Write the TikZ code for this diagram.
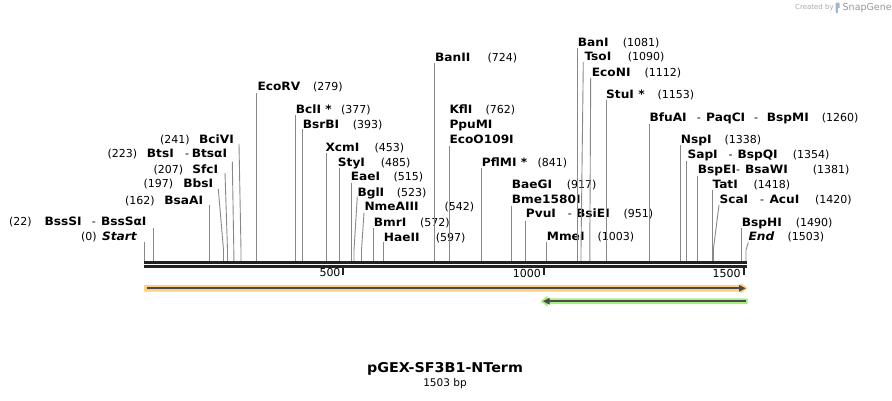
\documentclass[tikz,border=0pt]{standalone}
\usepackage{fontspec}
\setmainfont{DejaVu Sans}
\newfontfamily\lblfont{DejaVu Sans}[FakeStretch=1.06]
\definecolor{cutgray}{HTML}{888888}
\definecolor{bbone}{HTML}{222222}
\definecolor{orfill}{HTML}{FFD080}
\definecolor{grfill}{HTML}{A6EE80}
\definecolor{featdark}{HTML}{4A4A4A}
\definecolor{logogray}{HTML}{A8A8A8}
\definecolor{iconblue}{HTML}{9FB6CC}
\newcommand\RL[6]{%
  \node[lbl,anchor=base west] (#1) at (#2,#3+4) {#4};
  \node[num,anchor=base west] (#1n) at (#5,#3+4) {#6};}
\newcommand\XL[4]{\node[#1,anchor=base west] (#2) at (#3) {#4};}
\begin{document}
\begin{tikzpicture}[x=1pt,y=-1pt,
  lbl/.style={inner sep=0pt,font=\lblfont\fontsize{11.5}{13}\selectfont\bfseries},
  num/.style={inner sep=0pt,font=\fontsize{11}{13}\selectfont},
  cut/.style={draw=cutgray,line width=0.9pt},
  tick/.style={draw=bbone,line width=2pt}]
\useasboundingbox (0,0) rectangle (892,400);

% ---------- right-hand labels ----------
\RL{ecorv}{257.3}{86.7}{EcoRV}{313}{(279)}
\draw[cut] (256.6,93) -- (256.6,261);
\RL{bcli}{295.7}{109.3}{BclI *}{341}{(377)}
\draw[cut] (295.8,115) -- (295.8,261);
\RL{bsrbi}{302.7}{124}{BsrBI}{352.7}{(393)}
\draw[cut] (302,129.3) -- (302,261);
\RL{xcmi}{325.3}{147.3}{XcmI}{374.3}{(453)}
\draw[cut] (326,153.3) -- (326,261);
\RL{styi}{337.7}{162.3}{StyI}{380.7}{(485)}
\draw[cut] (339,167.7) -- (339,261);
\RL{eaei}{350.7}{176.7}{EaeI}{393.3}{(515)}
\draw[cut] (351,182.7) -- (351,261);
\RL{bgli}{357.3}{192}{BglI}{396.7}{(523)}
\draw[cut] (357.3,196.7) -- (354,250) -- (354,261);
\RL{nmeaiii}{364.3}{206.7}{NmeAIII}{444.3}{(542)}
\draw[cut] (364,212.7) -- (361.5,250) -- (361.5,261);
\RL{bmri}{373.7}{222}{BmrI}{420}{(572)}
\draw[cut] (373.8,227.7) -- (373.8,261);
\RL{haeii}{383.7}{237}{HaeII}{435.7}{(597)}
\draw[cut] (383.8,241.7) -- (383.8,261);
\RL{banii}{435}{57.3}{BanII}{487.3}{(724)}
\draw[cut] (434.6,63.3) -- (434.6,261);
\RL{kfli}{449.3}{109.3}{KflI}{485.3}{(762)}
\XL{lbl}{ppumi}{449.3,128}{PpuMI}
\XL{lbl}{ecoo}{449.3,143}{EcoO109I}
\draw[cut] (449.8,145.5) -- (449.8,261);
\RL{pflmi}{481.7}{162.3}{PflMI *}{537.3}{(841)}
\draw[cut] (481.4,167.7) -- (481.4,261);
\RL{baegi}{511.7}{184}{BaeGI}{566.7}{(917)}
\XL{lbl}{bme}{511.7,203}{Bme1580I}
\draw[cut] (511.8,205.5) -- (511.8,261);
\RL{pvui}{525.7}{213.3}{PvuI}{623.3}{(951)}
\XL{num}{pvud}{567.7,217.3}{-}
\XL{lbl}{bsiei}{576,217.3}{BsiEI}
\draw[cut] (525.4,220.7) -- (525.4,261);
\RL{mmei}{546.7}{236.7}{MmeI}{597.3}{(1003)}
\draw[cut] (546.2,241.7) -- (546.2,261);
\RL{bani}{577.7}{42.3}{BanI}{622.7}{(1081)}
\draw[cut] (577.4,48.3) -- (577.4,261);
\RL{tsoi}{584.3}{56.7}{TsoI}{627.7}{(1090)}
\draw[cut] (583.3,62.3) -- (581,250) -- (581,261);
\RL{econi}{591.7}{72.3}{EcoNI}{644.3}{(1112)}
\draw[cut] (590.7,77.7) -- (589.8,250) -- (589.8,261);
\RL{stui}{606}{94}{StuI *}{657.3}{(1153)}
\draw[cut] (606.2,100) -- (606.2,261);
\RL{bfuai}{649.3}{117.3}{BfuAI}{821.7}{(1260)}
\XL{num}{bfud1}{696.7,121.3}{-}
\XL{lbl}{paqci}{706,121.3}{PaqCI}
\XL{num}{bfud2}{754,121.3}{-}
\XL{lbl}{bspmi}{766.7,121.3}{BspMI}
\draw[cut] (649,124) -- (649,261);
\RL{nspi}{680.7}{139}{NspI}{724.3}{(1338)}
\draw[cut] (680.2,145) -- (680.2,261);
\RL{sapi}{687.3}{154}{SapI}{792.7}{(1354)}
\XL{num}{sapd}{728.3,158}{-}
\XL{lbl}{bspqi}{737.3,158}{BspQI}
\draw[cut] (686.7,161) -- (686.7,261);
\RL{bspei}{697.7}{169}{BspEI}{812.7}{(1381)}
\XL{num}{bspd}{736,173}{-}
\XL{lbl}{bsawi}{745,173}{BsaWI}
\draw[cut] (697.4,175.7) -- (697.4,261);
\RL{tati}{712.3}{184}{TatI}{753.3}{(1418)}
\draw[cut] (712.2,190) -- (712.2,261);
\RL{scai}{719.3}{199}{ScaI}{815}{(1420)}
\XL{num}{scad}{760,203}{-}
\XL{lbl}{acui}{769.3,203}{AcuI}
\draw[cut] (719,205) -- (713.3,250) -- (713.3,261);
\RL{bsphi}{741.7}{222.3}{BspHI}{795.7}{(1490)}
\draw[cut] (741,228.3) -- (741,261);
\RL{endl}{748.3}{236.7}{\itshape End}{787.3}{(1503)}
\draw[cut] (748.3,242.3) -- (746,250) -- (746,261);

% ---------- left-hand labels ----------
\XL{num}{startn}{81,240.7}{(0)}
\node[lbl,anchor=base east] (start) at (137,240.7) {\itshape Start};
\draw[cut] (144.5,241.7) -- (144.5,261);
\XL{num}{bsssin}{9,225.7}{(22)}
\XL{lbl}{bsssi}{44.3,225.7}{BssSI}
\XL{num}{bsssd}{91.7,225.7}{-}
\node[lbl,anchor=base east] (bsssai) at (146.7,225.7) {BssSαI};
\draw[cut] (153,228) -- (153,261);
\XL{num}{bsaain}{125,204}{(162)}
\node[lbl,anchor=base east] (bsaai) at (203.3,204) {BsaAI};
\draw[cut] (209.5,205) -- (209.5,261);
\XL{num}{bbsin}{143.3,187.3}{(197)}
\node[lbl,anchor=base east] (bbsi) at (213.3,187.3) {BbsI};
\draw[cut] (218.3,189) -- (223.5,250) -- (223.5,261);
\XL{num}{sfcin}{153.3,173.3}{(207)}
\node[lbl,anchor=base east] (sfci) at (218.3,173.3) {SfcI};
\draw[cut] (225,173) -- (227.5,250) -- (227.5,261);
\XL{num}{btsin}{107.3,157.3}{(223)}
\XL{lbl}{btsi}{146.7,157.3}{BtsI}
\XL{num}{btsd}{185,157.3}{-}
\node[lbl,anchor=base east] (btsai) at (227.3,157.3) {BtsαI};
\draw[cut] (232.3,161.7) -- (233.8,250) -- (233.8,261);
\XL{num}{bcivin}{160,143}{(241)}
\node[lbl,anchor=base east] (bcivi) at (234,143) {BciVI};
\draw[cut] (239,144) -- (241,250) -- (241,261);

% ---------- backbone ----------
\draw[draw=bbone,line width=3.3pt] (144,262.3) -- (746.5,262.3);
\draw[draw=bbone,line width=2.7pt] (144,266.4) -- (746.5,266.4);
\draw[tick] (343.3,266) -- (343.3,274.5);
\draw[tick] (544.3,266) -- (544.3,274.5);
\draw[tick] (744.3,266) -- (744.3,274.5);
\node[num,anchor=base east] (t500) at (340.7,276.5) {500};
\node[num,anchor=base east] (t1000) at (541,277.5) {1000};
\node[num,anchor=base east] (t1500) at (740.7,277.5) {1500};

% ---------- features ----------
\fill[orfill] (144,285) -- (740.5,285) -- (740.5,282.8) -- (747.8,288.3)
  -- (740.5,293.8) -- (740.5,291.5) -- (144,291.5) -- cycle;
\draw[featdark,line width=2pt] (146.5,288.3) -- (741,288.3);
\fill[featdark] (739,284.8) -- (745.6,288.3) -- (739,291.8) -- cycle;

\fill[grfill] (747.5,298.4) -- (547.5,298.4) -- (547.5,295.8) -- (540.5,301.2)
  -- (547.5,306.6) -- (547.5,304.1) -- (747.5,304.1) -- cycle;
\draw[featdark,line width=2pt] (745.8,301.2) -- (548,301.2);
\fill[featdark] (549.6,297.7) -- (543.2,301.2) -- (549.6,304.7) -- cycle;

% ---------- title ----------
\node[inner sep=0pt,font=\lblfont\fontsize{13.5}{15}\selectfont\bfseries] (title) at (445,369) {pGEX-SF3B1-NTerm};
\node[inner sep=0pt,font=\fontsize{10.5}{12}\selectfont] (bp) at (445,384) {1503 bp};

% ---------- logo ----------
\node[inner sep=0pt,anchor=west,text=logogray,font=\fontsize{7}{8}\selectfont] (cr) at (795,7.5) {Created by};
\fill[iconblue,rounded corners=1pt] (835.5,2.5) rectangle (839.5,13);
\fill[white] (837.7,8) rectangle (840,13.5);
\node[inner sep=0pt,anchor=west,text=logogray!90!black,font=\fontsize{9.5}{11}\selectfont] (sg) at (842.5,7.5) {SnapGene};
\end{tikzpicture}
\end{document}
